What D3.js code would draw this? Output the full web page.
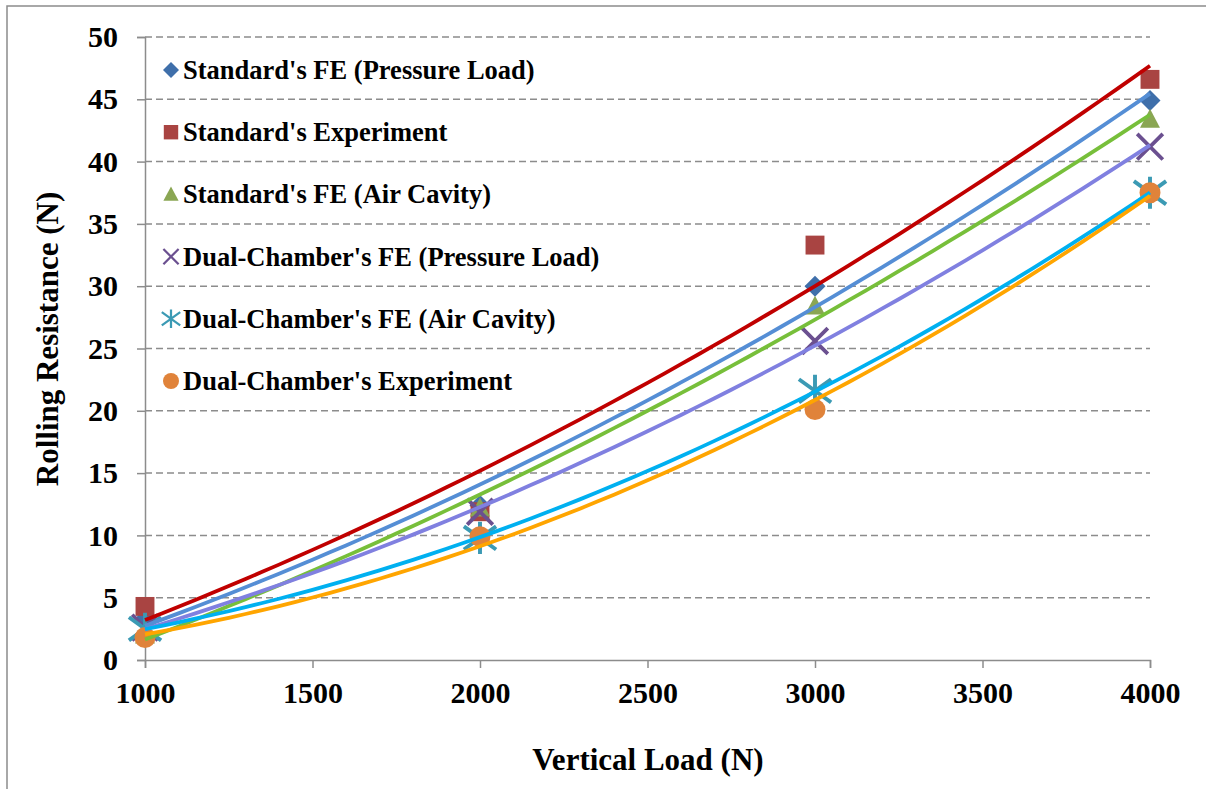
<!DOCTYPE html>
<html>
<head>
<meta charset="utf-8">
<script src="https://cdn.jsdelivr.net/npm/d3@7"></script>
<style>
  body { margin: 0; background: #fff; }
  svg text { font-family: "Liberation Serif", "Times New Roman", serif; font-weight: bold; fill: #000; }
</style>
</head>
<body>
<div id="chart"></div>
<script>
// data
var loads = [1000, 2000, 3000, 4000];
var xTicks = [1000, 1500, 2000, 2500, 3000, 3500, 4000];
var yTicks = [0, 5, 10, 15, 20, 25, 30, 35, 40, 45, 50];

var seriesNames = ["Standard's FE (Pressure Load)", "Standard's Experiment", "Standard's FE (Air Cavity)",
                   "Dual-Chamber's FE (Pressure Load)", "Dual-Chamber's FE (Air Cavity)", "Dual-Chamber's Experiment"];
var stdFePressure  = [3.3, 12.4, 30.0, 44.9];
var stdExperiment  = [4.3, 11.9, 33.3, 46.6];
var stdFeAir       = [2.0, 12.2, 28.4, 43.4];
var dualFePressure = [2.6, 11.9, 25.6, 41.2];
var dualFeAir      = [2.5, 9.8, 21.6, 37.5];
var dualExperiment = [1.8, 9.9, 20.1, 37.5];

var markerShapes  = ["diamond", "square", "triangle", "cross", "star", "circle"];
var markerColors  = ["#3f6faa", "#a94442", "#8aa653", "#6b5090", "#3b9ab4", "#e0833a"];
var trendColors   = ["#558ed5", "#c00000", "#77bf3a", "#8080e0", "#00b0f0", "#ffa500"];

var allValues = [stdFePressure, stdExperiment, stdFeAir, dualFePressure, dualFeAir, dualExperiment];

var W = 1206, H = 789;
var FONT = "'Liberation Serif', 'Times New Roman', serif";
var svg = d3.select("#chart").append("svg").attr("width", W).attr("height", H);

// outer frame
svg.append("rect").attr("x", 7).attr("y", 6).attr("width", W + 20).attr("height", H + 20)
   .attr("fill", "none").attr("stroke", "#8c8c8c").attr("stroke-width", 1.5);

var x = d3.scaleLinear().domain([1000, 4000]).range([145, 1150]);
var y = d3.scaleLinear().domain([0, 50]).range([660, 37]);

// gridlines
svg.append("g").selectAll("line").data(yTicks.filter(d => d > 0)).enter().append("line")
   .attr("x1", x(1000)).attr("x2", x(4000))
   .attr("y1", d => y(d)).attr("y2", d => y(d))
   .attr("stroke", "#8c8c8c").attr("stroke-width", 1.5).attr("stroke-dasharray", "7,4");

// axes
var yAxis = d3.axisLeft(y).tickValues(yTicks).tickSize(8).tickPadding(19).tickFormat(d3.format("d"));
var xAxis = d3.axisBottom(x).tickValues(xTicks).tickSize(8).tickPadding(14).tickFormat(d3.format("d"));

var gy = svg.append("g").attr("transform", "translate(" + x(1000) + ",0)").call(yAxis);
var gx = svg.append("g").attr("transform", "translate(0," + y(0) + ")").call(xAxis);
[gx, gy].forEach(function(g) {
  g.attr("font-family", FONT).attr("font-size", null);
  g.select(".domain").attr("stroke", "#8c8c8c").attr("stroke-width", 1.5);
  g.selectAll(".tick line").attr("stroke", "#8c8c8c").attr("stroke-width", 1.5);
  g.selectAll("text").style("font-size", "30px").style("font-family", FONT);
});

// marker drawing
function marker(g, shape, s, color) {
  var h = s / 2;
  if (shape === "diamond") {
    g.append("path").attr("d", "M0," + (-h) + "L" + h + ",0L0," + h + "L" + (-h) + ",0Z").attr("fill", color);
  } else if (shape === "square") {
    g.append("rect").attr("x", -h * 0.9).attr("y", -h * 0.9).attr("width", s * 0.9).attr("height", s * 0.9).attr("fill", color);
  } else if (shape === "triangle") {
    g.append("path").attr("d", "M0," + (-h * 1.0) + "L" + (h * 0.95) + "," + (h * 0.8) + "L" + (-h * 0.95) + "," + (h * 0.8) + "Z").attr("fill", color);
  } else if (shape === "cross") {
    var c = h * 0.95;
    g.append("path").attr("d", "M" + (-c) + "," + (-c) + "L" + c + "," + c + "M" + c + "," + (-c) + "L" + (-c) + "," + c)
     .attr("stroke", color).attr("stroke-width", s * 0.14).attr("fill", "none");
  } else if (shape === "star") {
    var a = h * 1.15, b = a * 0.72;
    g.append("path").attr("d", "M0," + (-a) + "L0," + a + "M" + (-a) + "," + (-b) + "L" + a + "," + b + "M" + a + "," + (-b) + "L" + (-a) + "," + b)
     .attr("stroke", color).attr("stroke-width", s * 0.14).attr("fill", "none");
  } else {
    g.append("circle").attr("r", h).attr("fill", color);
  }
}

// markers
allValues.forEach(function(vals, i) {
  loads.forEach(function(ld, j) {
    var g = svg.append("g").attr("transform", "translate(" + x(ld) + "," + y(vals[j]) + ")");
    marker(g, markerShapes[i], markerShapes[i] === "cross" ? 27 : (markerShapes[i] === "star" ? 28 : 21), markerColors[i]);
  });
});

// polynomial (order 2) trendlines, least squares like Excel
function quadFit(xs, ys) {
  var n = xs.length, s = [0, 0, 0, 0, 0], t = [0, 0, 0];
  for (var k = 0; k < n; k++) {
    var xv = xs[k] / 1000;
    for (var p = 0; p < 5; p++) s[p] += Math.pow(xv, p);
    for (var q = 0; q < 3; q++) t[q] += ys[k] * Math.pow(xv, q);
  }
  var A = [[s[0], s[1], s[2], t[0]], [s[1], s[2], s[3], t[1]], [s[2], s[3], s[4], t[2]]];
  for (var c = 0; c < 3; c++) {
    for (var r = c + 1; r < 3; r++) {
      var f = A[r][c] / A[c][c];
      for (var m = c; m < 4; m++) A[r][m] -= f * A[c][m];
    }
  }
  var coef = [0, 0, 0];
  for (var r2 = 2; r2 >= 0; r2--) {
    var sum = A[r2][3];
    for (var m2 = r2 + 1; m2 < 3; m2++) sum -= A[r2][m2] * coef[m2];
    coef[r2] = sum / A[r2][r2];
  }
  return function(xv) { xv = xv / 1000; return coef[0] + coef[1] * xv + coef[2] * xv * xv; };
}

var line = d3.line().x(d => x(d[0])).y(d => y(d[1]));
var trendOrder = [1, 0, 2, 3, 4, 5];
trendOrder.forEach(function(i) {
  var fit = quadFit(loads, allValues[i]);
  var pts = d3.range(1000, 4001, 50).map(v => [v, fit(v)]);
  svg.append("path").attr("d", line(pts)).attr("fill", "none")
     .attr("stroke", trendColors[i]).attr("stroke-width", 3.8);
});

// legend
var legend = svg.append("g");
seriesNames.forEach(function(name, i) {
  var cy = 70 + i * 62.2;
  var g = legend.append("g").attr("transform", "translate(171," + cy + ")");
  marker(g, markerShapes[i], 16, markerColors[i]);
  legend.append("text").attr("x", 183).attr("y", cy + 9)
        .style("font-family", FONT).style("font-size", "26.5px").text(name);
});

// axis titles
svg.append("text").attr("x", 648).attr("y", 770).attr("text-anchor", "middle")
   .style("font-family", FONT).style("font-size", "31px").text("Vertical Load (N)");
svg.append("text").attr("transform", "translate(58,339) rotate(-90)").attr("text-anchor", "middle")
   .style("font-family", FONT).style("font-size", "31px").text("Rolling Resistance (N)");
</script>
</body>
</html>
